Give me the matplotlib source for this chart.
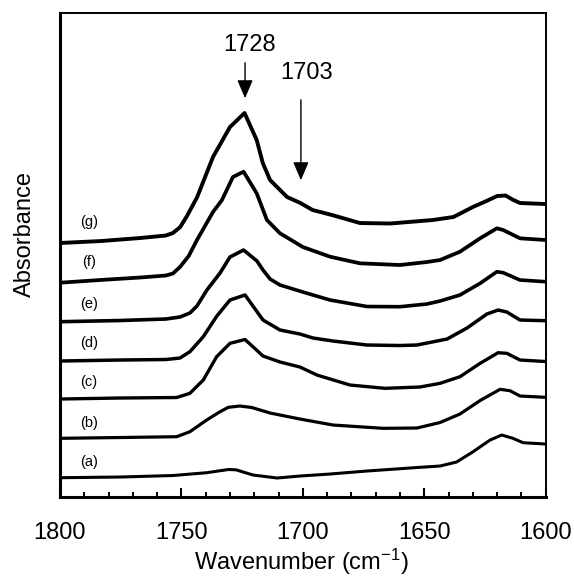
import numpy as np
import matplotlib
matplotlib.use('Agg')
import matplotlib.pyplot as plt
from matplotlib.ticker import MultipleLocator

plt.rcParams['font.family'] = ['Liberation Sans', 'DejaVu Sans']
plt.rcParams['mathtext.fontset'] = 'custom'
plt.rcParams['mathtext.rm'] = 'Liberation Sans'
plt.rcParams['mathtext.default'] = 'regular'

# spectra (wavenumber, absorbance in arbitrary stacked units)
wn_g = [1800, 1783, 1767, 1756.4, 1753.5, 1750.5, 1747.7, 1743.5, 1737, 1730, 1724, 1719, 1716.5, 1713.5, 1706.5, 1701, 1696, 1688,
        1676.5, 1664, 1646.5, 1638, 1630, 1624.4, 1620, 1616.5, 1613.7, 1610.6, 1600]
ab_g = [2.54, 2.56, 2.59, 2.615, 2.64, 2.70, 2.81, 3.00, 3.40, 3.70, 3.84, 3.57, 3.34, 3.17, 3.00, 2.94, 2.87, 2.82,
        2.74, 2.735, 2.77, 2.80, 2.90, 2.96, 3.01, 3.015, 2.975, 2.94, 2.93]

wn_f = [1800, 1783.5, 1767, 1756.4, 1753.5, 1750.6, 1747, 1743.6, 1737, 1733.3, 1728.8, 1724.4, 1719, 1714.8, 1709.4, 1700, 1688.8,
        1676.5, 1660, 1648.9, 1643.5, 1635.3, 1627, 1620.1, 1617.5, 1610.6, 1600]
ab_f = [2.143, 2.17, 2.195, 2.215, 2.235, 2.30, 2.41, 2.57, 2.85, 2.97, 3.20, 3.253, 3.037, 2.77, 2.637, 2.50, 2.403,
        2.337, 2.32, 2.35, 2.37, 2.453, 2.587, 2.687, 2.67, 2.587, 2.57]

wn_e = [1800, 1775.3, 1756.4, 1750.6, 1746.5, 1743.6, 1739.5, 1734.1, 1730, 1724.4, 1718.9, 1716.4, 1713.5, 1709.4, 1700, 1688.8,
        1673.6, 1660, 1648.9, 1643.5, 1635.3, 1627, 1620.1, 1617.5, 1610.6, 1600]
ab_e = [1.753, 1.765, 1.78, 1.80, 1.84, 1.91, 2.07, 2.24, 2.40, 2.47, 2.36, 2.27, 2.18, 2.12, 2.05, 1.97,
        1.905, 1.903, 1.93, 1.96, 2.02, 2.137, 2.253, 2.243, 2.17, 2.153]

wn_d = [1800, 1775.3, 1756.4, 1750.6, 1746.5, 1741, 1735.4, 1730, 1723.8, 1716.4, 1709.4, 1701.2, 1695.8, 1687.6, 1673.6, 1660,
        1653, 1640.6, 1632.4, 1624.2, 1619.6, 1616, 1610.6, 1600]
ab_d = [1.36, 1.37, 1.375, 1.39, 1.453, 1.603, 1.81, 1.97, 2.02, 1.77, 1.67, 1.63, 1.59, 1.56, 1.52, 1.515,
        1.52, 1.58, 1.69, 1.83, 1.87, 1.85, 1.77, 1.763]

wn_c = [1800, 1775.3, 1752, 1746.5, 1741, 1735.5, 1730, 1723.8, 1716.4, 1709.4, 1701.2, 1694.2, 1680.6, 1666.2, 1651.8, 1643.5,
        1635.3, 1627, 1619.6, 1616, 1610.6, 1600]
ab_c = [0.98, 0.99, 0.995, 1.037, 1.17, 1.403, 1.537, 1.575, 1.41, 1.35, 1.30, 1.22, 1.12, 1.087, 1.10, 1.137,
        1.203, 1.337, 1.443, 1.437, 1.37, 1.355]

wn_b = [1800, 1775.3, 1752, 1746.5, 1739.6, 1734.1, 1730.7, 1725.9, 1721, 1713.5, 1701.2, 1687.6, 1667, 1653, 1643.5, 1635.3,
        1627, 1618.8, 1614.7, 1610.6, 1600]
ab_b = [0.587, 0.595, 0.603, 0.653, 0.77, 0.853, 0.897, 0.91, 0.895, 0.84, 0.78, 0.72, 0.687, 0.69, 0.745, 0.83,
        0.965, 1.077, 1.063, 1.01, 0.997]

wn_a = [1800, 1775.3, 1753.5, 1739.6, 1730.7, 1727.5, 1720.5, 1710.6, 1701.2, 1688.8, 1673.6, 1653, 1643.5, 1636.7, 1629.9,
        1622.9, 1618.1, 1613.5, 1609.3, 1600]
ab_a = [0.193, 0.20, 0.215, 0.243, 0.275, 0.272, 0.22, 0.19, 0.21, 0.23, 0.26, 0.295, 0.31, 0.35, 0.453,
        0.57, 0.62, 0.587, 0.543, 0.53]

labels = ['(a)', '(b)', '(c)', '(d)', '(e)', '(f)', '(g)']
label_y = [0.35, 0.74, 1.15, 1.54, 1.93, 2.35, 2.75]

fig = plt.figure(figsize=(5.74, 5.78), dpi=100)
ax = fig.add_axes([0.1045, 0.1401, 0.8462, 0.8374])

spectra = [(wn_a, ab_a), (wn_b, ab_b), (wn_c, ab_c), (wn_d, ab_d),
           (wn_e, ab_e), (wn_f, ab_f), (wn_g, ab_g)]
widths = [2.2, 2.3, 2.4, 2.5, 2.6, 2.7, 2.8]
for (wn, ab), lw in zip(spectra, widths):
    ax.plot(wn, ab, color='black', lw=lw, solid_joinstyle='round', solid_capstyle='butt')

for lab, ly in zip(labels, label_y):
    ax.text(1788, ly, lab, ha='center', va='center', fontsize=10.5)

# peak markers
arrow = dict(arrowstyle='-|>,head_length=0.7,head_width=0.3', color='black', lw=1.0, mutation_scale=16)
ax.annotate('', xy=(1723.8, 3.96), xytext=(1723.8, 4.37), arrowprops=arrow)
ax.text(1721.8, 4.52, '1728', ha='center', va='center', fontsize=17)
ax.annotate('', xy=(1700.8, 3.14), xytext=(1700.8, 4.00), arrowprops=arrow)
ax.text(1698.3, 4.24, '1703', ha='center', va='center', fontsize=17)

ax.set_xlim(1800, 1600)
ax.set_ylim(0, 4.84)
ax.set_yticks([])
ax.xaxis.set_major_locator(MultipleLocator(50))
ax.xaxis.set_minor_locator(MultipleLocator(10))
ax.tick_params(axis='x', which='major', direction='in', length=6.5, width=1.5, labelsize=17, pad=18)
ax.tick_params(axis='x', which='minor', direction='in', length=3.8, width=1.4)

ax.spines['left'].set_linewidth(2.2)
ax.spines['bottom'].set_linewidth(2.2)
ax.spines['top'].set_linewidth(1.4)
ax.spines['right'].set_linewidth(1.4)

ax.set_xlabel('Wavenumber (cm$^{-1}$)', fontsize=17)
ax.xaxis.set_label_coords(0.496, -0.102)
ax.set_ylabel('Absorbance', fontsize=17)
ax.yaxis.set_label_coords(-0.05, 0.543)

plt.savefig('out.png', dpi=100)
